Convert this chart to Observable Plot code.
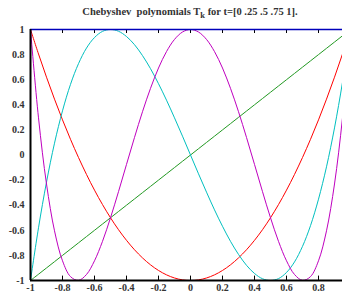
<!DOCTYPE html>
<html>
<head>
<meta charset="utf-8">
<script src="https://cdn.jsdelivr.net/npm/d3@7"></script>
<script src="https://cdn.jsdelivr.net/npm/@observablehq/plot@0.6"></script>
<style>
  html, body { margin: 0; padding: 0; background: #fff; }
  #wrap { position: relative; width: 342px; height: 293px; overflow: hidden; }
  #title { position: absolute; left: 0; top: 6px; width: 380px; text-align: center;
           font-family: "Liberation Serif", "DejaVu Serif", serif; font-weight: bold;
           font-size: 10.5px; color: #333; white-space: pre; z-index: 2; }
  #title sub { font-size: 8.5px; vertical-align: -3px; line-height: 0; }
  #chart { position: absolute; left: 0; top: 0; }
</style>
</head>
<body>
<div id="wrap">
  <div id="title">Chebyshev  polynomials T<sub>k</sub> for t=[0 .25 .5 .75 1].</div>
  <div id="chart"></div>
</div>
<script>
const xs = [-1,-0.95,-0.9,-0.85,-0.8,-0.75,-0.7,-0.65,-0.6,-0.55,-0.5,-0.45,-0.4,-0.35,-0.3,-0.25,-0.2,-0.15,-0.1,-0.05,
  0,0.05,0.1,0.15,0.2,0.25,0.3,0.35,0.4,0.45,0.5,0.55,0.6,0.65,0.7,0.75,0.8,0.85,0.9,0.95,1];
const t1 = [-1,-0.95,-0.9,-0.85,-0.8,-0.75,-0.7,-0.65,-0.6,-0.55,-0.5,-0.45,-0.4,-0.35,-0.3,-0.25,-0.2,-0.15,-0.1,-0.05,
  0,0.05,0.1,0.15,0.2,0.25,0.3,0.35,0.4,0.45,0.5,0.55,0.6,0.65,0.7,0.75,0.8,0.85,0.9,0.95,1];
const t2 = [1,0.805,0.62,0.445,0.28,0.125,-0.02,-0.155,-0.28,-0.395,-0.5,-0.595,-0.68,-0.755,-0.82,-0.875,-0.92,-0.955,-0.98,-0.995,
  -1,-0.995,-0.98,-0.955,-0.92,-0.875,-0.82,-0.755,-0.68,-0.595,-0.5,-0.395,-0.28,-0.155,-0.02,0.125,0.28,0.445,0.62,0.805,1];
const t3 = [-1,-0.58,-0.216,0.094,0.352,0.563,0.728,0.852,0.936,0.985,1,0.986,0.944,0.879,0.792,0.688,0.568,0.437,0.296,0.15,
  0,-0.15,-0.296,-0.437,-0.568,-0.688,-0.792,-0.879,-0.944,-0.986,-1,-0.985,-0.936,-0.852,-0.728,-0.563,-0.352,-0.094,0.216,0.58,1];
const t4 = [1,0.296,-0.231,-0.604,-0.843,-0.969,-0.999,-0.952,-0.843,-0.688,-0.5,-0.292,-0.075,0.14,0.345,0.531,0.693,0.824,0.921,0.98,
  1,0.98,0.921,0.824,0.693,0.531,0.345,0.14,-0.075,-0.292,-0.5,-0.688,-0.843,-0.952,-0.999,-0.969,-0.843,-0.604,-0.231,0.296,1];
const seriesNames = ["T1","T2","T3","T4"];
const seriesColors = ["#229922","#ff0000","#00bfbf","#bf00bf"];
const xTicks = [-1,-0.8,-0.6,-0.4,-0.2,0,0.2,0.4,0.6,0.8];
const yTicks = [-1,-0.8,-0.6,-0.4,-0.2,0,0.2,0.4,0.6,0.8,1];

const ys = [t1,t2,t3,t4];
const rows = [];
ys.forEach((arr, k) => arr.forEach((v, i) => rows.push({x: xs[i], y: v, s: seriesNames[k]})));
const fmt = d => String(+d.toFixed(1));

const chart = Plot.plot({
  width: 342, height: 293,
  marginLeft: 30, marginRight: 0, marginTop: 29, marginBottom: 13,
  x: {domain: [-1, 0.95], label: null},
  y: {domain: [-1, 1], label: null},
  color: {domain: seriesNames, range: seriesColors},
  style: {background: "white", overflow: "visible"},
  marks: [
    Plot.axisX({ticks: xTicks, tickFormat: fmt, tickSize: 0, tickPadding: 3, label: null}),
    Plot.axisY({ticks: yTicks, tickFormat: fmt, tickSize: 0, tickPadding: 6, label: null}),
    Plot.ruleX(xTicks.slice(1), {x: d => d, y1: -1, y2: -0.965, stroke: "#000", strokeWidth: 1}),
    Plot.ruleX(xTicks.slice(1), {x: d => d, y1: 1, y2: 0.968, stroke: "#000", strokeWidth: 1}),
    Plot.line(rows, {x: "x", y: "y", z: "s", stroke: "s", strokeWidth: 1, curve: "catmull-rom", clip: true}),
    Plot.ruleY([1], {stroke: "#0000bb", strokeWidth: 1.5}),
    Plot.ruleY([-1], {stroke: "#000", strokeWidth: 2}),
    Plot.ruleX([-1], {stroke: "#000", strokeWidth: 2})
  ]
});
chart.querySelectorAll("text").forEach(t => {
  t.style.fontFamily = "'Liberation Serif', 'DejaVu Serif', serif";
  t.style.fontWeight = "bold";
  t.style.fontSize = "10px";
  t.style.fill = "#333";
});
document.getElementById("chart").appendChild(chart);
</script>
</body>
</html>
